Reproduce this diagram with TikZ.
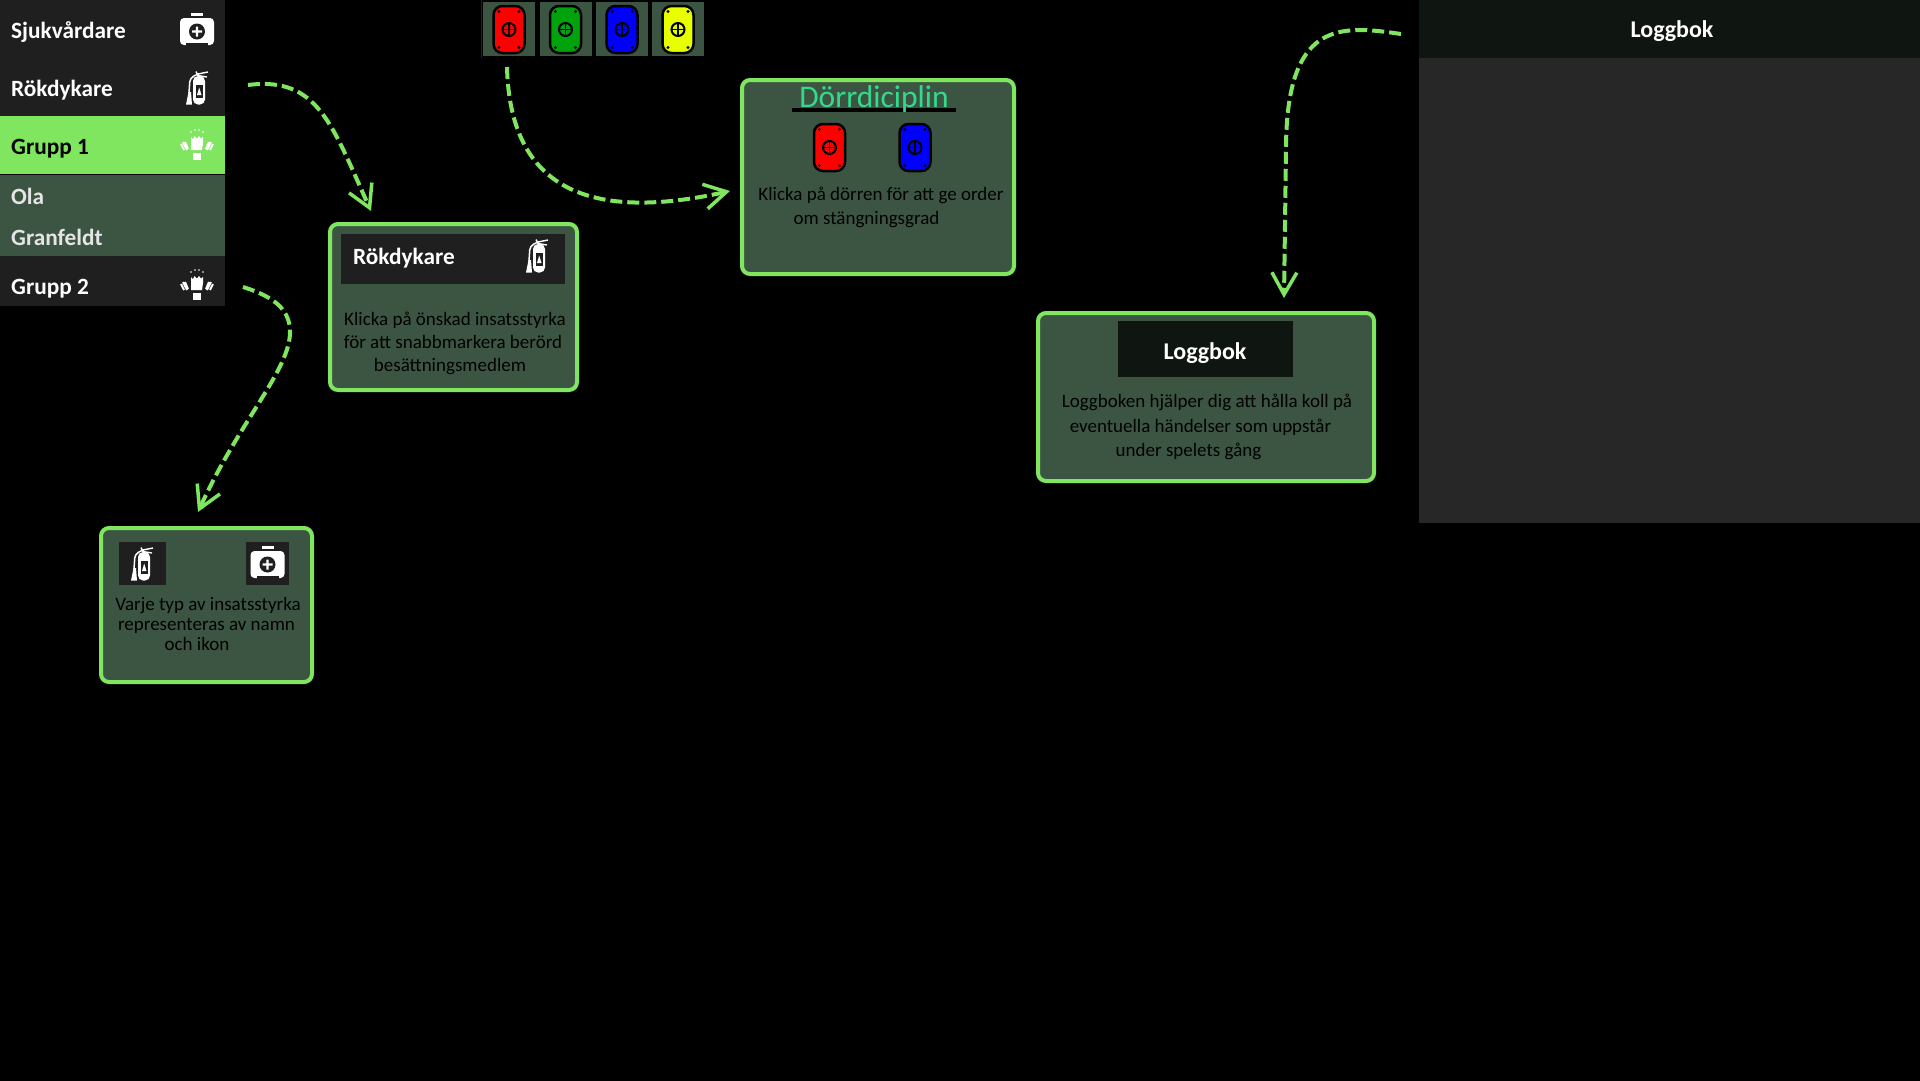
\documentclass[tikz,border=0pt]{standalone}
\usepackage{fontspec}
\setmainfont{Carlito}
\usetikzlibrary{arrows.meta}
\definecolor{rowdark}{HTML}{1F1F1F}
\definecolor{logdark}{HTML}{0F1611}
\definecolor{logpanel}{HTML}{272727}
\definecolor{boxgreen}{HTML}{3C5542}
\definecolor{linegreen}{HTML}{80E65F}
\definecolor{titlegreen}{HTML}{35D98C}
\definecolor{doorgreen}{HTML}{00A30B}
\definecolor{dooryellow}{HTML}{E8FF00}
\tikzset{
  helpbox/.style={draw=linegreen, fill=boxgreen, line width=4pt, rounded corners=8pt, inner sep=0pt},
  band/.style={inner sep=0pt, anchor=north west},
  sidetext/.style={inner sep=0pt, anchor=base west, text=white, font=\fontsize{23.3}{28}\selectfont\bfseries},
  headtext/.style={inner sep=0pt, anchor=base, text=white, font=\fontsize{24}{28}\selectfont\bfseries},
  helptext/.style={inner sep=0pt, anchor=base, text=black, font=\fontsize{19}{23}\selectfont},
  guide/.style={draw=linegreen, line width=4pt, dash pattern=on 12pt off 5pt, -{Straight Barb[length=22pt, width=25pt, line width=3.5pt]}},
  door/.pic={
    \draw[fill=#1, line width=2.5pt, rounded corners=9pt] (-15.5,-23.5) rectangle (15.5,23.5);
    \draw[line width=2pt] (0,0) circle (6.5);
    \draw[line width=1.5pt] (-6.5,0) -- (6.5,0) (0,-6.5) -- (0,6.5);
    \foreach \bx in {-10,10} \foreach \by in {-18,18} \fill (\bx,\by) circle (1.6);
  },
  medkit/.pic={
    \fill[white, rounded corners=4pt] (-17,-13) rectangle (17,14);
    \fill[white] (-6,-18) rectangle (6,-15.5);
    \fill[rowdark] (-11,12) rectangle (11,14.5);
    \fill[rowdark] (0,0.5) circle (8);
    \fill[white] (-5,-0.7) rectangle (5,1.7) (-1.2,-4.5) rectangle (1.2,5.5);
  },
  extinguisher/.pic={
    \fill[white, rounded corners=5pt] (-4,17.5) -- (-4,-11) -- (8,-11) -- (8,17.5) -- cycle;
    \fill[rowdark] (-1.5,-2) rectangle (6,11);
    \fill[white] (2.2,0.5) -- (4.5,8) -- (0,8) -- cycle;
    \draw[white, line width=1.5pt, rounded corners=4pt] (1,-13) -- (-7,-9) -- (-8,6);
    \fill[white] (-8.5,5) -- (-6,5) -- (-5,17.5) -- (-11,17.5) -- cycle;
    \draw[white, line width=1.4pt] (-1,-15.5) -- (1,-11.5) (1,-13) -- (11,-15) (1,-11.5) -- (10,-10);
  },
  glove/.pic={
    \fill[white] (-6,5) -- (-6,-8) -- (-4,-6) -- (-2.5,-9) -- (0,-6.5) -- (2,-9) -- (4,-6.5) -- (6,-8) -- (6,-2) -- (5,5) -- cycle;
    \fill[white] (-4,7.5) rectangle (4,15);
    \draw[white, line width=2pt] (-16,-1) -- (-13,5) (-12,-3) -- (-9,4) (-14,-3) -- (-10,5);
    \draw[white, line width=2pt] (16,-1) -- (13,5) (12,-3) -- (9,4) (14,-3) -- (10,5);
    \foreach \sx/\sy in {-6/-13, -2/-15, 2/-15, 6/-13} \fill[white] (\sx,\sy) circle (0.8);
  }
}

\begin{document}
\begin{tikzpicture}[x=1pt, y=-1pt]
  \useasboundingbox (0,0) rectangle (1920,1080);
  \fill[black] (-5,-5) rectangle (1925,1085);

  \node[band, fill=rowdark, minimum width=225pt, minimum height=117pt] (topRows) at (0,0) {};
  \node[band, fill=linegreen, minimum width=225pt, minimum height=58pt] (gruppOneRow) at (0,116) {};
  \node[band, fill=boxgreen, minimum width=225pt, minimum height=82pt] (memberRow) at (0,174.5) {};
  \node[band, fill=rowdark, minimum width=225pt, minimum height=50pt] (gruppTwoRow) at (0,256) {};
  \node[sidetext] (sjukLabel) at (11,38) {Sjukvårdare};
  \node[sidetext] (rokLabel) at (11,96) {Rökdykare};
  \node[sidetext, text=black] (gruppOneLabel) at (11,154) {Grupp 1};
  \node[sidetext, text=white!90!black] (olaLabel) at (11,204) {Ola};
  \node[sidetext, text=white!90!black] (granLabel) at (11,245) {Granfeldt};
  \node[sidetext] (gruppTwoLabel) at (11,294) {Grupp 2};
  \pic at (197,31) {medkit};
  \pic at (197,87) {extinguisher};
  \pic at (197,145) {glove};
  \pic at (197,285) {glove};

  \draw[rowdark, line width=1pt] (481.5,0) -- (481.5,58);
  \foreach \tx/\tcol in {483/red, 539.5/doorgreen, 596/blue, 652/dooryellow} {
    \fill[boxgreen] (\tx,2) rectangle ++(52,54);
    \pic at (\tx+26,29.5) {door=\tcol};
  }

  \node[helpbox, minimum width=247pt, minimum height=166pt] (rokBox) at (453.5,307) {};
  \node[fill=rowdark, minimum width=224pt, minimum height=50pt, inner sep=0pt] (rokHead) at (453,259) {};
  \node[sidetext] (rokHeadLabel) at (353,264) {Rökdykare};
  \pic at (537,255) {extinguisher};
  \node[helptext] (rokLineA) at (455,325) {Klicka på önskad insatsstyrka};
  \node[helptext] (rokLineB) at (453,348) {för att snabbmarkera berörd};
  \node[helptext] (rokLineC) at (450,371) {besättningsmedlem};

  \node[helpbox, minimum width=272pt, minimum height=194pt] (doorBox) at (878,177) {};
  \draw[black, line width=3.5pt] (792,110) -- (956,110);
  \node[inner sep=0pt, anchor=base, text=titlegreen, font=\fontsize{31.5}{36}\selectfont] (doorTitle) at (874,107) {Dörrdiciplin};
  \pic at (829.5,147.5) {door=red};
  \pic at (915,147.5) {door=blue};
  \node[helptext] (doorLineA) at (881,200) {Klicka på dörren för att ge order};
  \node[helptext] (doorLineB) at (866.5,224) {om stängningsgrad};

  \node[helpbox, minimum width=211pt, minimum height=154pt] (typeBox) at (206.5,605) {};
  \node[fill=rowdark, minimum width=47pt, minimum height=43pt, inner sep=0pt] (typeTileA) at (142.5,563.5) {};
  \node[fill=rowdark, minimum width=43pt, minimum height=43pt, inner sep=0pt] (typeTileB) at (267.5,563.5) {};
  \pic at (142,563) {extinguisher};
  \pic at (267.5,564) {medkit};
  \node[helptext] (typeLineA) at (208,610) {Varje typ av insatsstyrka};
  \node[helptext] (typeLineB) at (206.5,630) {representeras av namn};
  \node[helptext] (typeLineC) at (197,650) {och ikon};

  \node[helpbox, minimum width=336pt, minimum height=168pt] (logBox) at (1206,397) {};
  \node[fill=logdark, minimum width=175pt, minimum height=56pt, inner sep=0pt] (logHead) at (1205.5,349) {};
  \node[headtext] (logHeadLabel) at (1205,359) {Loggbok};
  \node[helptext] (logLineA) at (1207,407) {Loggboken hjälper dig att hålla koll på};
  \node[helptext] (logLineB) at (1200.5,432) {eventuella händelser som uppstår};
  \node[helptext] (logLineC) at (1188.5,456) {under spelets gång};

  \node[band, fill=logpanel, minimum width=501pt, minimum height=465pt] (logPanel) at (1419,58) {};
  \node[band, fill=logdark, minimum width=501pt, minimum height=58pt] (logPanelHead) at (1419,0) {};
  \node[headtext] (logPanelLabel) at (1672,37) {Loggbok};

  \coordinate (rokStart) at (248,85);
  \coordinate (rokEnd) at (371,211);
  \coordinate (doorStart) at (507,67);
  \coordinate (doorEnd) at (730,191);
  \coordinate (typeStart) at (243,287);
  \coordinate (typeBend) at (290,332);
  \coordinate (typeEnd) at (198,512);
  \coordinate (logStart) at (1401,34);
  \coordinate (logBend) at (1286,150);
  \coordinate (logEnd) at (1284,298);
  \draw[guide] (rokStart) .. controls (318,76) and (332,125) .. (rokEnd);
  \draw[guide] (doorStart) .. controls (510,190) and (590,222) .. (doorEnd);
  \draw[guide] (typeStart) .. controls (275,297) and (290,310) .. (typeBend) .. controls (290,370) and (240,420) .. (typeEnd);
  \draw[guide] (logStart) .. controls (1340,25) and (1286,20) .. (logBend) -- (logEnd);
\end{tikzpicture}
\end{document}
